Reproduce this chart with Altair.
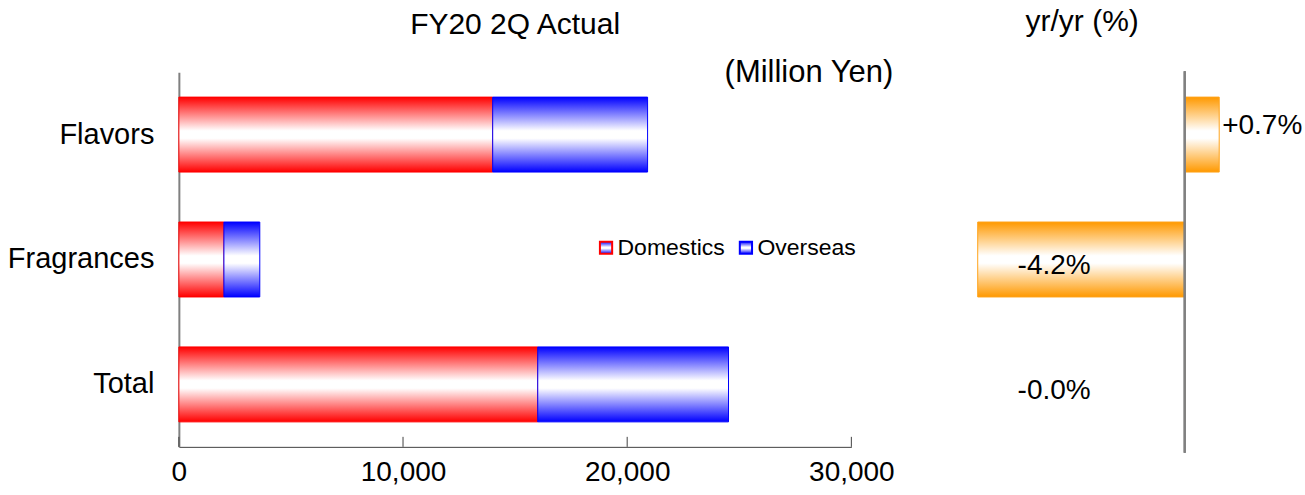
import altair as alt
import pandas as pd

# Segment sales (million yen) and year-on-year change (%)
categories = ["Flavors", "Fragrances", "Total"]
domestics = [14000, 2010, 16010]
overseas = [6910, 1600, 8510]
yoy = [0.7, -4.2, -0.0]
series = ["Domestics", "Overseas"]
x_ticks = [0, 10000, 20000, 30000]

FONT = "Liberation Sans"

sales = pd.DataFrame(
    [{"category": c, "series": "Domestics", "ord": 0, "value": d} for c, d in zip(categories, domestics)]
    + [{"category": c, "series": "Overseas", "ord": 1, "value": o} for c, o in zip(categories, overseas)]
)
growth = pd.DataFrame({"category": categories, "yoy": yoy,
                       "label": [f"{v:+.1f}%" for v in yoy]})
ticks = pd.DataFrame({"tick": x_ticks})


def band(c1):
    """Vertical gradient: solid colour at top and bottom edges, white in the middle."""
    return {"gradient": "linear", "x1": 0, "y1": 0, "x2": 0, "y2": 1,
            "stops": [{"offset": 0, "color": c1},
                      {"offset": 0.45, "color": "#ffffff"},
                      {"offset": 0.55, "color": "#ffffff"},
                      {"offset": 1, "color": c1}]}


def caption(text, size, x, y, align="center"):
    """Free-standing text placed relative to a panel's plot area."""
    return alt.Chart(pd.DataFrame({"t": [text]})).mark_text(
        font=FONT, fontSize=size, align=align, baseline="middle", color="black"
    ).encode(text="t:N", x=alt.value(x), y=alt.value(y))


y_scale = alt.Scale(domain=categories, paddingInner=0.4, paddingOuter=0.2)
x_scale = alt.Scale(domain=[0, 30000], nice=False)
x_axis = alt.Axis(title=None, values=x_ticks, format=",.0f", tickSize=0, labelFlush=False,
                  labelFontSize=28, labelFont=FONT, labelColor="black",
                  labelPadding=12, domainColor="#404040", grid=False)

bars = alt.Chart(sales).mark_bar(strokeWidth=1).encode(
    y=alt.Y("category:N", scale=y_scale, sort=categories,
            axis=alt.Axis(title=None, ticks=False, labelFontSize=29, labelFont=FONT,
                          labelColor="black", labelPadding=25, domainColor="#808080",
                          domainWidth=2)),
    x=alt.X("value:Q", stack="zero", scale=x_scale, axis=x_axis),
    order=alt.Order("ord:Q"),
    stroke=alt.Stroke("series:N", scale=alt.Scale(domain=series, range=["#ff0000", "#0000ff"]),
                      legend=alt.Legend(title=None, orient="none", legendX=416, legendY=164,
                                        direction="horizontal", symbolType="square",
                                        symbolSize=150, symbolStrokeWidth=2,
                                        symbolFillColor="#ffe8e8", labelFontSize=23,
                                        labelFont=FONT, labelColor="black",
                                        labelOffset=0, columnPadding=9, padding=0)),
    fill=alt.condition(alt.datum.series == "Domestics",
                       alt.value(band("#ff0000")), alt.value(band("#0000ff"))),
)

# short upward tick marks on the value axis
tick_marks = alt.Chart(ticks).mark_rule(color="#404040", strokeWidth=1).encode(
    x=alt.X("tick:Q", scale=x_scale, axis=x_axis), y=alt.value(365), y2=alt.value(375)
)

left = alt.layer(
    bars, tick_marks,
    caption("FY20 2Q Actual", 30, 336.5, -47),
    caption("(Million Yen)", 31, 715, 1, align="right"),
).properties(width=673, height=375)

x_right = alt.Scale(domain=[-5, 2.4], nice=False)
y_right = alt.Y("category:N", scale=y_scale, sort=categories, axis=None)

yoy_bars = alt.Chart(growth).mark_bar(fill=band("#ff9900"), stroke="#ffa31a", strokeWidth=1).encode(
    y=y_right, x=alt.X("yoy:Q", scale=x_right, axis=None)
)

zero_line = alt.Chart(growth).mark_rule(color="#808080", strokeWidth=2).encode(
    x=alt.datum(0, scale=x_right), y=alt.value(-1), y2=alt.value(381)
)

pos_labels = alt.Chart(growth).transform_filter("datum.yoy > 0").mark_text(
    font=FONT, fontSize=28, align="left", baseline="middle", dx=3, dy=-9, color="black"
).encode(y=y_right, x=alt.X("yoy:Q", scale=x_right), text="label:N")

neg_labels = alt.Chart(growth).transform_filter("datum.yoy <= 0").mark_text(
    font=FONT, fontSize=28, align="center", baseline="middle", dy=7, color="black"
).encode(y=y_right, x=alt.datum(-2.65, scale=x_right), text="label:N")

right = alt.layer(
    yoy_bars, zero_line, pos_labels, neg_labels,
    caption("yr/yr (%)", 30, 144, -50),
).properties(width=365, height=375)

chart = alt.hconcat(left, right, spacing=87, bounds="flush").properties(
    padding={"left": 7, "top": 7, "right": 2, "bottom": 8},
    background="white",
).configure_view(stroke=None)

chart.save("out.html", embed_options={"renderer": "svg", "actions": False})
